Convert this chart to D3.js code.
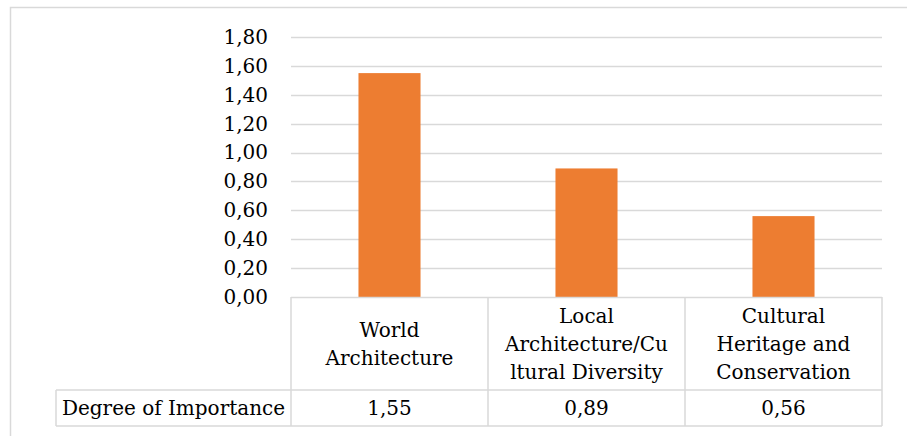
<!DOCTYPE html>
<html>
<head>
<meta charset="utf-8">
<script src="https://cdn.jsdelivr.net/npm/d3@7"></script>
<style>
  html, body { margin: 0; padding: 0; background: #fff; overflow: hidden; }
  svg { display: block; }
  text { font-family: "DejaVu Serif", "Liberation Serif", serif; fill: #000; }
</style>
</head>
<body>
<svg id="chart" width="907" height="436"></svg>
<script>
// Chart data
const categories = ["World Architecture", "Local Architecture/Cultural Diversity", "Cultural Heritage and Conservation"];
const categoryLines = [
  ["World", "Architecture"],
  ["Local", "Architecture/Cu", "ltural Diversity"],
  ["Cultural", "Heritage and", "Conservation"]
];
const seriesName = "Degree of Importance";
const values = [1.55, 0.89, 0.56];
const yTicks = [0, 0.2, 0.4, 0.6, 0.8, 1.0, 1.2, 1.4, 1.6, 1.8];

const W = 907, H = 436;
const plot = { left: 291, right: 882, top: 37, bottom: 297 };
const headerBottom = 390, tableBottom = 426, labelCellLeft = 56;
const gridColor = "#d9d9d9";
const barColor = "#ED7D31";
const fontSize = 20;

const svg = d3.select("#chart");
const fmt = d3.formatLocale({ decimal: ",", thousands: ".", grouping: [3], currency: ["", ""] }).format(".2f");

// Outer chart frame (extends past the window on the right and bottom)
svg.append("rect")
  .attr("x", 10.5).attr("y", 7.5)
  .attr("width", W + 20).attr("height", H + 20)
  .attr("fill", "#fff").attr("stroke", gridColor).attr("stroke-width", 1.5);

const x = d3.scaleBand().domain(categories).range([plot.left, plot.right]).paddingInner(0).paddingOuter(0);
const y = d3.scaleLinear().domain([0, 1.8]).range([plot.bottom, plot.top]);

// Horizontal gridlines
svg.append("g").selectAll("line").data(yTicks.filter(d => d > 0)).join("line")
  .attr("x1", plot.left).attr("x2", plot.right)
  .attr("y1", d => Math.round(y(d)) + 0.5).attr("y2", d => Math.round(y(d)) + 0.5)
  .attr("stroke", gridColor).attr("stroke-width", 1.5);

// Y axis tick labels
const yAxis = d3.axisLeft(y).tickValues(yTicks).tickFormat(fmt).tickSize(0).tickPadding(23);
const gy = svg.append("g").attr("transform", `translate(${plot.left},0)`).call(yAxis);
gy.select(".domain").remove();
gy.selectAll("text")
  .attr("font-family", "DejaVu Serif, Liberation Serif, serif")
  .attr("font-size", fontSize).attr("fill", "#000");

// Bars
const barW = x.bandwidth() * 0.315;
svg.append("g").selectAll("rect").data(values).join("rect")
  .attr("x", (d, i) => x(categories[i]) + (x.bandwidth() - barW) / 2)
  .attr("y", d => y(d))
  .attr("width", barW)
  .attr("height", d => y(0) - y(d))
  .attr("fill", barColor);

// Data table grid
const tg = svg.append("g").attr("stroke", gridColor).attr("stroke-width", 1.5);
const hl = (x1, x2, yy) => tg.append("line").attr("x1", x1).attr("x2", x2).attr("y1", yy).attr("y2", yy);
const vl = (xx, y1, y2) => tg.append("line").attr("x1", xx).attr("x2", xx).attr("y1", y1).attr("y2", y2);
hl(plot.left, plot.right, plot.bottom + 0.5);
hl(labelCellLeft, plot.right, headerBottom);
hl(labelCellLeft, plot.right, tableBottom);
vl(labelCellLeft, headerBottom, tableBottom);
categories.forEach(c => vl(x(c), plot.bottom, tableBottom));
vl(plot.right, plot.bottom, tableBottom);

// Category headers
const lineH = 28;
const headerMid = (plot.bottom + headerBottom) / 2;
categories.forEach((c, i) => {
  const lines = categoryLines[i];
  const cx = x(c) + x.bandwidth() / 2;
  const t = svg.append("text").attr("text-anchor", "middle").attr("font-size", fontSize);
  lines.forEach((ln, k) => {
    t.append("tspan").attr("x", cx)
      .attr("y", headerMid + (k - (lines.length - 1) / 2) * lineH)
      .attr("dy", "0.35em").text(ln);
  });
});

// Value row
const rowMid = (headerBottom + tableBottom) / 2;
svg.append("text").attr("x", (labelCellLeft + plot.left) / 2).attr("y", rowMid).attr("dy", "0.35em")
  .attr("text-anchor", "middle").attr("font-size", fontSize).text(seriesName);
values.forEach((v, i) => {
  svg.append("text").attr("x", x(categories[i]) + x.bandwidth() / 2).attr("y", rowMid).attr("dy", "0.35em")
    .attr("text-anchor", "middle").attr("font-size", fontSize).text(fmt(v));
});
</script>
</body>
</html>
